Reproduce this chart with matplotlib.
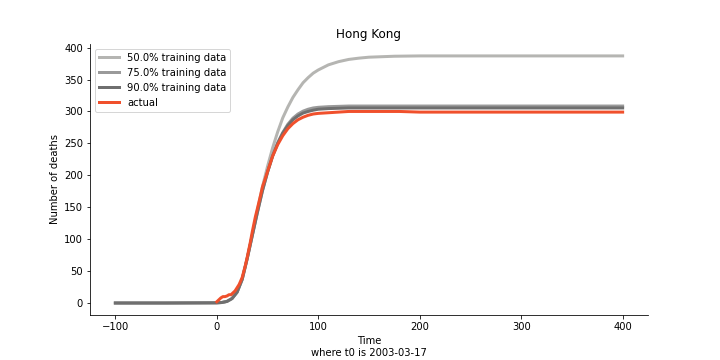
import matplotlib.pyplot as plt

# fitted curves, time relative to t0 = 2003-03-17
t_fit = [-100, -50, 0, 5, 10, 15, 20, 25, 30, 35, 40, 45, 50, 55, 60, 65, 70,
         75, 80, 85, 90, 95, 100, 110, 120, 130, 140, 150, 175, 200, 250, 300,
         350, 400]

fit_50 = [0, 0, 0.3, 0.8, 2.5, 7, 17, 37, 70, 107, 145, 182, 214, 243, 268, 290,
          307, 322, 334, 345, 353, 360, 365, 373, 378, 381.5, 383.5, 385,
          386.5, 387, 387, 387, 387, 387]

fit_75 = [0, 0, 0.3, 0.8, 2.5, 7, 17, 37, 70, 106, 142, 176, 205, 231, 251, 267,
          280, 289.5, 296, 300.5, 303.5, 305.5, 306.5, 307.5, 308, 308.5, 308.5,
          308.5, 308.5, 308.5, 308.5, 308.5, 308.5, 308.5]

fit_90 = [0, 0, 0.3, 0.8, 2.5, 7, 17, 37, 70, 106, 142, 176, 205, 230, 250, 266,
          278, 287, 293, 297.5, 300, 302, 303.5, 304.5, 305, 305.5, 305.5, 305.5,
          305.5, 305.5, 305.5, 305.5, 305.5, 305.5]

# actual cumulative deaths
t_actual = [0, 2, 4, 6, 8, 10, 12, 14, 16, 18, 20, 22, 25, 28, 30, 33, 35, 38,
            40, 43, 45, 48, 50, 55, 60, 65, 70, 75, 80, 85, 90, 95, 100, 110,
            120, 130, 150, 180, 200, 250, 300, 350, 400]
actual = [2, 5, 8, 10, 10, 11, 13, 13, 16, 19, 24, 29, 40, 58, 72, 95, 112, 135,
          148, 168, 182, 196, 206, 230, 248, 262, 273, 281, 287, 291, 294, 296,
          297, 298, 299, 300, 300, 300, 299, 299, 299, 299, 299]

fig, ax = plt.subplots(figsize=(10, 5), dpi=72)
fig.subplots_adjust(left=0.125, right=0.9, bottom=0.124, top=0.879)

ax.plot(t_fit, fit_50, color="#b5b5b2", lw=3, label="50.0% training data")
ax.plot(t_fit, fit_75, color="#9a9a9a", lw=3, label="75.0% training data")
ax.plot(t_fit, fit_90, color="#6f6f6f", lw=3, label="90.0% training data")
ax.plot(t_actual, actual, color="#f0502c", lw=3, label="actual")

ax.set_title("Hong Kong", fontsize=12)
ax.set_xlabel("Time\nwhere t0 is 2003-03-17")
ax.set_ylabel("Number of deaths")
ax.spines["top"].set_visible(False)
ax.spines["right"].set_visible(False)
ax.legend(loc="upper left")

fig.savefig("out.png", dpi=72)
